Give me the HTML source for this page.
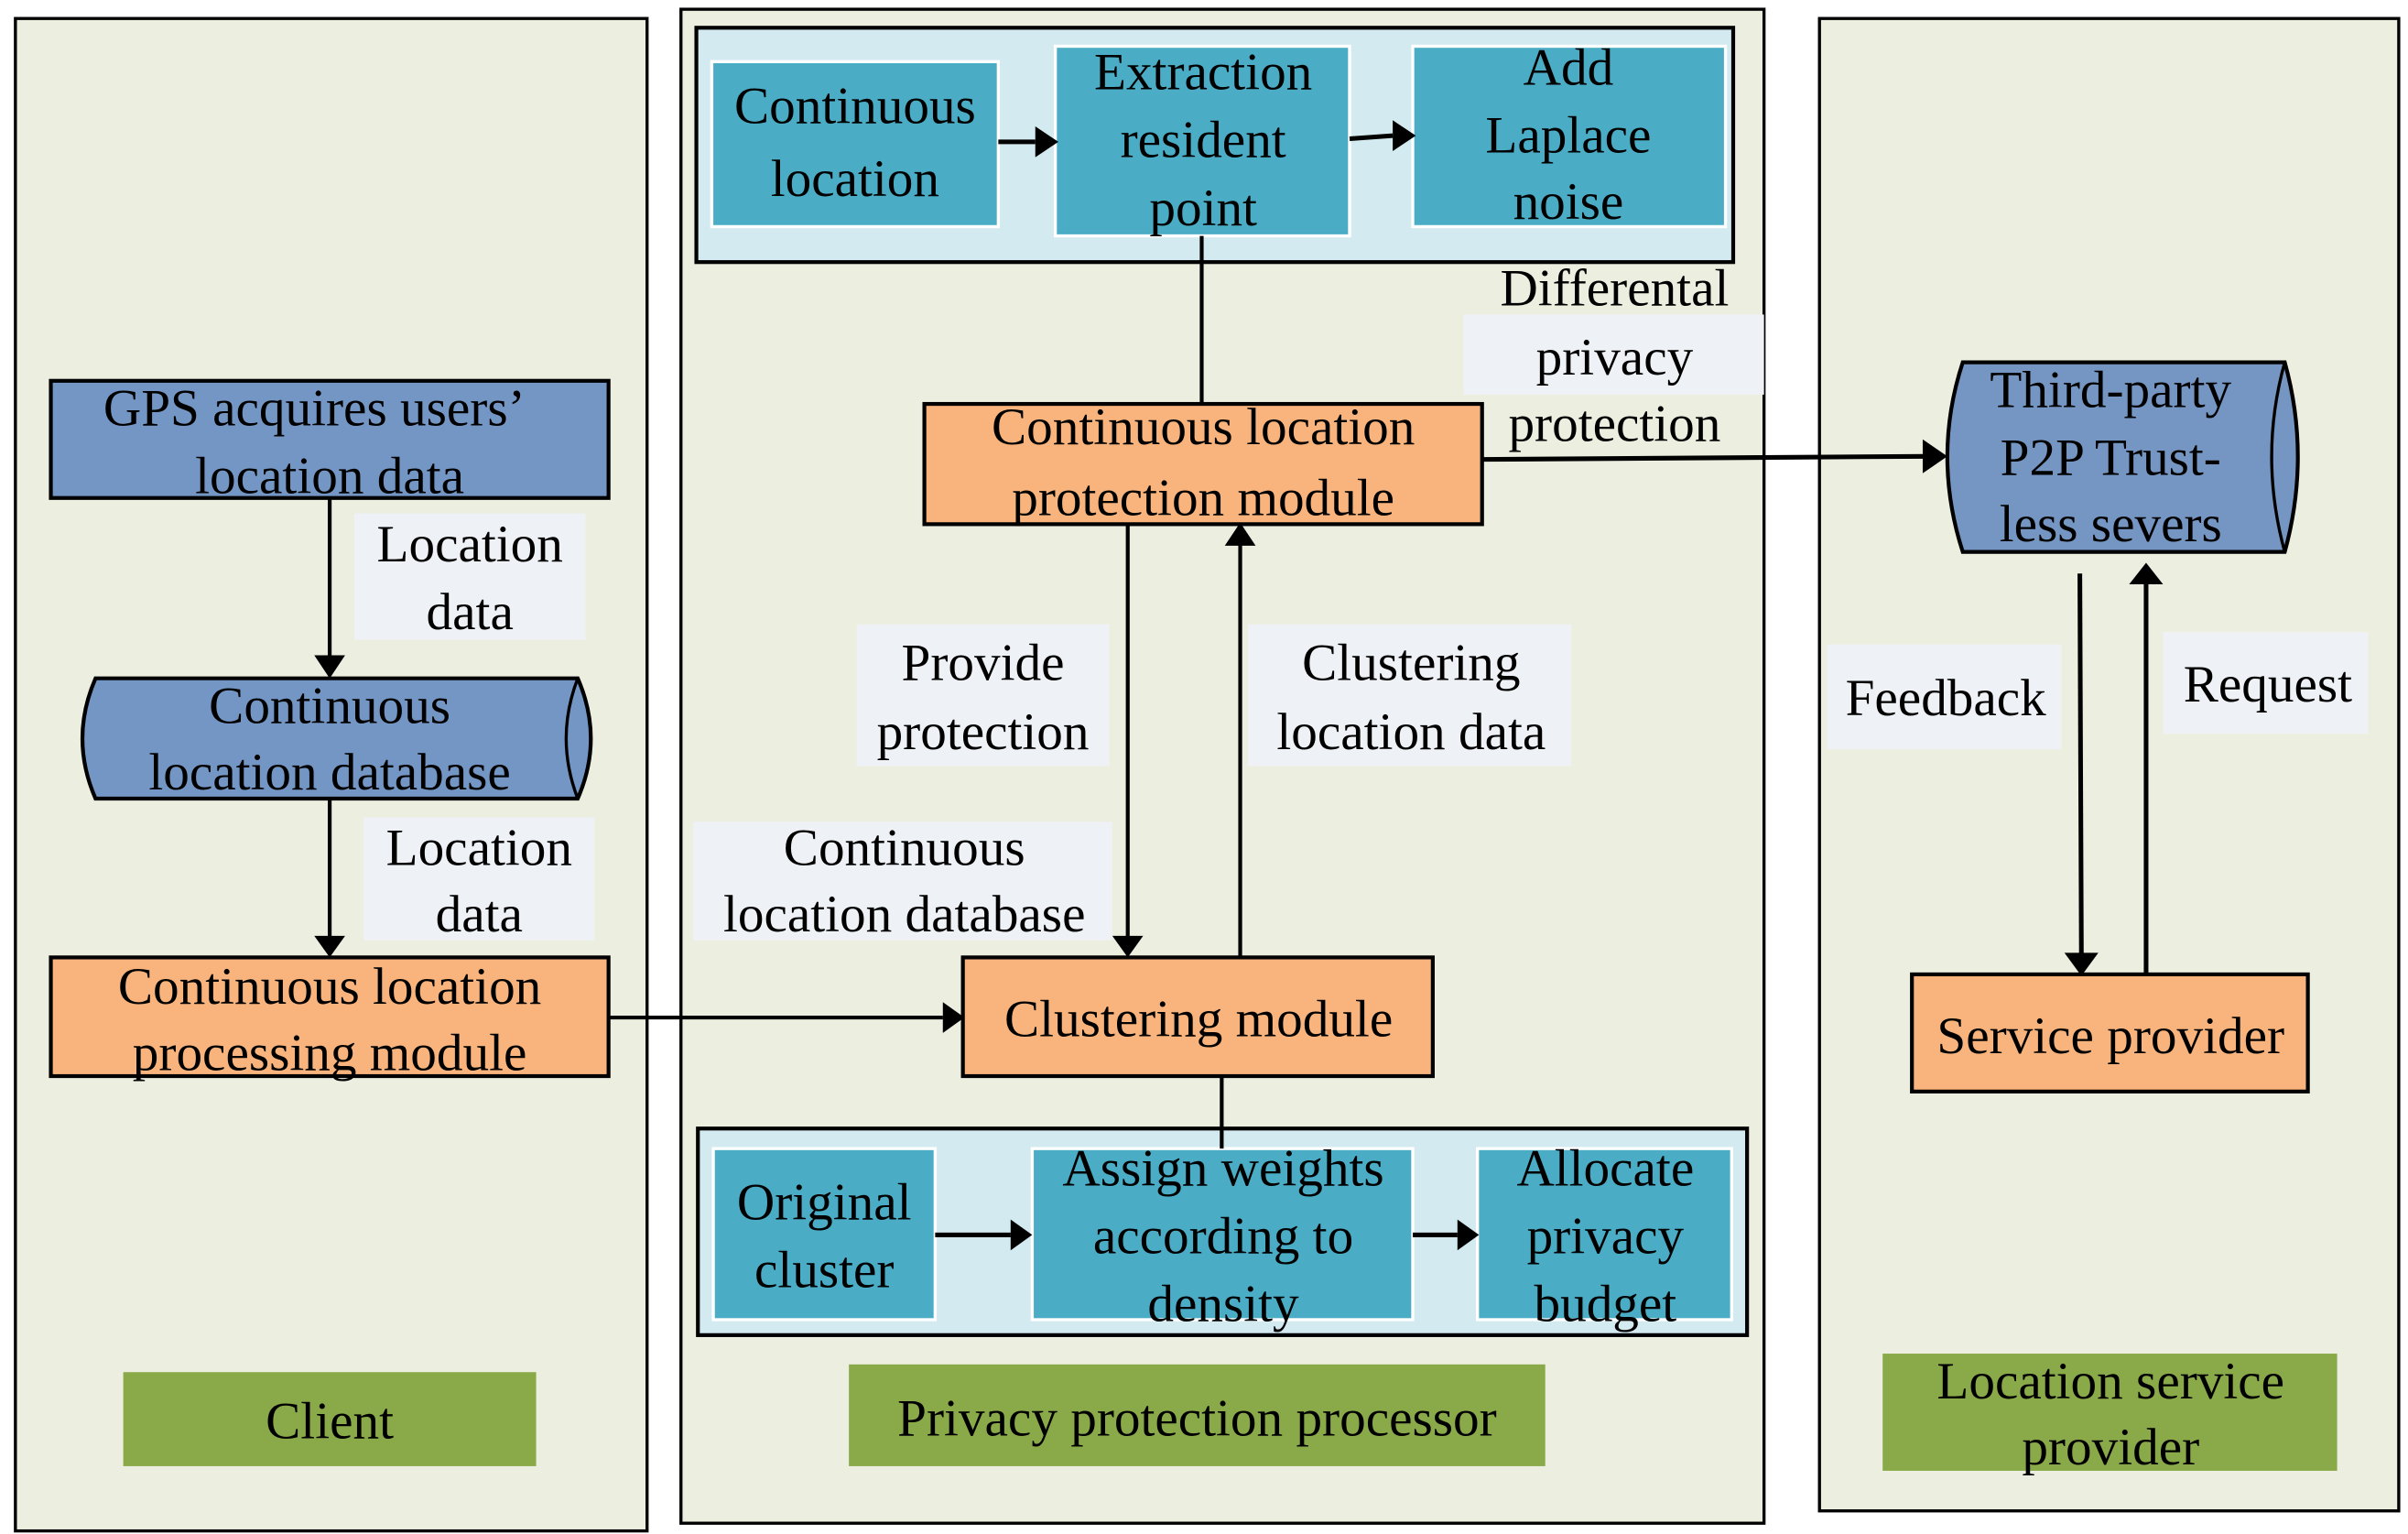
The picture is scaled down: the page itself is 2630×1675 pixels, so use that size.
<!DOCTYPE html>
<html><head><meta charset="utf-8"><style>
html,body{margin:0;padding:0;background:#fff;}
svg{display:block;}
text{font-family:"Liberation Serif",serif;font-size:34px;fill:#000;text-anchor:middle;}
</style></head><body>
<svg width="2630" height="1675" viewBox="0 0 1563 995" preserveAspectRatio="none" xmlns="http://www.w3.org/2000/svg">
<defs>
<marker id="a" markerWidth="8" markerHeight="8" refX="7" refY="4" orient="auto" markerUnits="userSpaceOnUse" viewBox="0 0 8 8">
</marker>
</defs>
<rect width="1563" height="995" fill="#fff"/>
<!-- panels -->
<rect x="10" y="12" width="410" height="981" fill="#ECEFE0" stroke="#000" stroke-width="2"/>
<rect x="442" y="6" width="703" height="982" fill="#ECEFE0" stroke="#000" stroke-width="2"/>
<rect x="1181" y="12" width="376" height="968" fill="#ECEFE0" stroke="#000" stroke-width="2"/>

<!-- top inner -->
<rect x="452" y="18" width="673" height="152" fill="#D3EAF0" stroke="#000" stroke-width="2.5"/>
<rect x="462" y="40" width="186" height="107" fill="#4BACC6" stroke="#fff" stroke-width="2"/>
<rect x="685" y="30" width="191" height="123" fill="#4BACC6" stroke="#fff" stroke-width="2"/>
<rect x="917" y="30" width="203" height="117" fill="#4BACC6" stroke="#fff" stroke-width="2"/>
<text x="555" y="80">Continuous</text><text x="555" y="127">location</text>
<text x="781" y="58">Extraction</text><text x="781" y="102">resident</text><text x="781" y="146">point</text>
<text x="1018" y="55">Add</text><text x="1018" y="99">Laplace</text><text x="1018" y="142">noise</text>
<line x1="648" y1="92" x2="672" y2="92" stroke="#000" stroke-width="3"/><polygon points="672,82 687,92 672,102"/>
<line x1="876" y1="90" x2="904" y2="88" stroke="#000" stroke-width="3"/><polygon points="904,78 919,88 904,98"/>
<line x1="780" y1="153" x2="780" y2="262" stroke="#000" stroke-width="2.5"/>

<!-- differential label -->
<rect x="950" y="204" width="195" height="52" fill="#EEF1F5"/>
<text x="1048" y="198">Differental</text><text x="1048" y="243">privacy</text><text x="1048" y="286">protection</text>

<!-- CLPM -->
<rect x="600" y="262" width="362" height="78" fill="#F8B47C" stroke="#000" stroke-width="2.5"/>
<text x="781" y="288">Continuous location</text><text x="781" y="334">protection module</text>
<line x1="962" y1="298" x2="1250" y2="296" stroke="#000" stroke-width="3"/><polygon points="1248,285 1264,296 1248,307"/>

<!-- third party cylinder -->
<path d="M1274,235 L1483,235 Q1500,296 1483,358 L1274,358 Q1254,296 1274,235 Z" fill="#7596C2" stroke="#000" stroke-width="2.5"/>
<path d="M1483,235 Q1466,296 1483,358" fill="none" stroke="#000" stroke-width="2"/>
<text x="1370" y="264">Third-party</text><text x="1370" y="308">P2P Trust-</text><text x="1370" y="351">less severs</text>

<!-- feedback/request -->
<rect x="1186" y="418" width="152" height="68" fill="#EEF1F5"/>
<rect x="1404" y="410" width="133" height="66" fill="#EEF1F5"/>
<text x="1263" y="464">Feedback</text><text x="1472" y="455">Request</text>
<line x1="1350" y1="372" x2="1351" y2="620" stroke="#000" stroke-width="3"/><polygon points="1340,618 1351,633 1362,618"/>
<line x1="1393" y1="632" x2="1393" y2="378" stroke="#000" stroke-width="3"/><polygon points="1382,379 1393,365 1404,379"/>
<rect x="1241" y="632" width="257" height="76" fill="#F8B47C" stroke="#000" stroke-width="2.5"/>
<text x="1370" y="683">Service provider</text>
<rect x="1222" y="878" width="295" height="76" fill="#8AAA4A"/>
<text x="1370" y="907">Location service</text><text x="1370" y="950">provider</text>

<!-- client -->
<rect x="33" y="247" width="362" height="76" fill="#7496C4" stroke="#000" stroke-width="2.5"/>
<text x="204" y="276">GPS acquires users’</text><text x="214" y="320">location data</text>
<line x1="214" y1="323" x2="214" y2="428" stroke="#000" stroke-width="2.5"/><polygon points="204,425 214,440 224,425"/>
<rect x="230" y="333" width="150" height="82" fill="#EEF1F5"/>
<text x="305" y="364">Location</text><text x="305" y="408">data</text>
<path d="M62,440 L375,440 Q392,479 375,518 L62,518 Q45,479 62,440 Z" fill="#7496C4" stroke="#000" stroke-width="2.5"/>
<path d="M375,440 Q360,479 375,518" fill="none" stroke="#000" stroke-width="2"/>
<text x="214" y="469">Continuous</text><text x="214" y="512">location database</text>
<line x1="214" y1="518" x2="214" y2="608" stroke="#000" stroke-width="2.5"/><polygon points="204,607 214,621 224,607"/>
<rect x="236" y="530" width="150" height="80" fill="#EEF1F5"/>
<text x="311" y="561">Location</text><text x="311" y="604">data</text>
<rect x="33" y="621" width="362" height="77" fill="#F8B47C" stroke="#000" stroke-width="2.5"/>
<text x="214" y="651">Continuous location</text><text x="214" y="694">processing module</text>
<line x1="395" y1="660" x2="612" y2="660" stroke="#000" stroke-width="2.5"/><polygon points="612,650 626,660 612,670"/>
<rect x="80" y="890" width="268" height="61" fill="#8AAA4A"/>
<text x="214" y="933">Client</text>

<!-- middle -->
<rect x="556" y="405" width="164" height="92" fill="#EEF1F5"/>
<text x="638" y="441">Provide</text><text x="638" y="486">protection</text>
<rect x="810" y="405" width="210" height="92" fill="#EEF1F5"/>
<text x="916" y="441">Clustering</text><text x="916" y="486">location data</text>
<rect x="450" y="533" width="272" height="77" fill="#EEF1F5"/>
<text x="587" y="561">Continuous</text><text x="587" y="604">location database</text>
<line x1="732" y1="340" x2="732" y2="608" stroke="#000" stroke-width="2.5"/><polygon points="722,607 732,621 742,607"/>
<line x1="805" y1="621" x2="805" y2="352" stroke="#000" stroke-width="2.5"/><polygon points="795,354 805,339 815,354"/>
<rect x="625" y="621" width="305" height="77" fill="#F8B47C" stroke="#000" stroke-width="2.5"/>
<text x="778" y="672">Clustering module</text>
<line x1="793" y1="698" x2="793" y2="745" stroke="#000" stroke-width="2.5"/>

<rect x="453" y="732" width="681" height="134" fill="#D3EAF0" stroke="#000" stroke-width="2.5"/>
<rect x="463" y="745" width="144" height="111" fill="#4BACC6" stroke="#fff" stroke-width="2"/>
<rect x="670" y="745" width="247" height="111" fill="#4BACC6" stroke="#fff" stroke-width="2"/>
<rect x="959" y="745" width="165" height="111" fill="#4BACC6" stroke="#fff" stroke-width="2"/>
<line x1="793" y1="732" x2="793" y2="745" stroke="#000" stroke-width="2.5"/>
<text x="535" y="791">Original</text><text x="535" y="835">cluster</text>
<text x="794" y="769">Assign weights</text><text x="794" y="813">according to</text><text x="794" y="857">density</text>
<text x="1042" y="769">Allocate</text><text x="1042" y="813">privacy</text><text x="1042" y="857">budget</text>
<line x1="607" y1="801" x2="656" y2="801" stroke="#000" stroke-width="3"/><polygon points="656,791 670,801 656,811"/>
<line x1="917" y1="801" x2="946" y2="801" stroke="#000" stroke-width="3"/><polygon points="946,791 960,801 946,811"/>
<rect x="551" y="885" width="452" height="66" fill="#8AAA4A"/>
<text x="777" y="931">Privacy protection processor</text>
</svg>
</body></html>
